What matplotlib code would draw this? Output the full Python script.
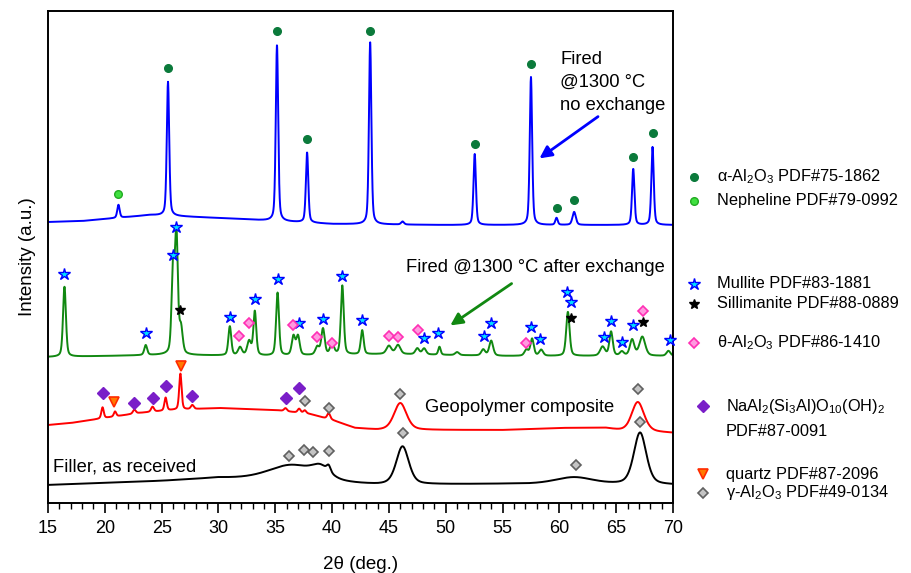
import matplotlib

matplotlib.use("Agg")

import matplotlib.pyplot as plt
from matplotlib.lines import Line2D
from matplotlib.ticker import MultipleLocator
import numpy as np

plt.rcParams["font.family"] = ["Liberation Sans", "DejaVu Sans"]
plt.rcParams["mathtext.fontset"] = "custom"
plt.rcParams["mathtext.rm"] = "Liberation Sans"
plt.rcParams["mathtext.it"] = "Liberation Sans:italic"

# ---- traces: baseline anchors (2theta, intensity) and peaks (centre, height, fwhm) ----
BLUE_BASE_X = [15, 18, 21, 24, 26, 30, 35, 40, 50, 60, 70]
BLUE_BASE_Y = [281, 282, 285, 288, 287, 285, 282, 279, 278, 278, 278]
BLUE_PEAK_X = [21.2, 25.56, 35.15, 37.8, 43.35, 46.2, 52.55, 57.5, 59.75, 61.3, 66.5, 68.2]
BLUE_PEAK_H = [13, 134, 176, 70, 182, 3, 71, 148, 7, 13, 56, 78]
BLUE_PEAK_W = [0.25, 0.25, 0.25, 0.25, 0.25, 0.3, 0.25, 0.25, 0.25, 0.35, 0.25, 0.25]

GREEN_BASE_X = [15, 25, 35, 45, 55, 70]
GREEN_BASE_Y = [146, 148, 147, 149, 147, 147]
GREEN_PEAK_X = [16.45, 23.6, 26.0, 26.3, 26.7, 31.0, 31.9, 32.7, 33.2, 35.2, 36.6, 37.0,
                38.7, 39.2, 40.0, 40.9, 42.65, 45.0, 45.8, 47.5, 48.1, 49.45, 51.0, 53.3,
                54.0, 57.1, 57.6, 58.4, 60.75, 63.8, 64.55, 65.5, 66.4, 67.3, 69.6]
GREEN_PEAK_H = [70, 10, 83, 118, 25, 29, 8, 14, 44, 63, 19, 19,
                8, 26, 11, 69, 24, 8, 9, 6, 6, 8, 3, 6,
                15, 6, 17, 6, 44, 9, 24, 4, 16, 19, 5]
GREEN_PEAK_W = [0.3, 0.3, 0.3, 0.3, 0.35, 0.3, 0.4, 0.4, 0.3, 0.3, 0.35, 0.35,
                0.4, 0.35, 0.4, 0.3, 0.3, 0.5, 0.5, 0.4, 0.4, 0.25, 0.4, 0.4,
                0.4, 0.4, 0.35, 0.4, 0.35, 0.5, 0.35, 0.4, 0.45, 0.6, 0.4]

RED_BASE_X = [15, 17, 20, 23, 26, 30, 35, 38, 40, 42, 44, 48, 55, 60, 64, 66, 68, 70]
RED_BASE_Y = [78, 80, 85, 90, 93, 95, 93, 89, 83, 75, 73, 73, 73, 75, 75, 71, 71, 70]
RED_PEAK_X = [19.8, 20.9, 22.6, 24.2, 25.35, 26.65, 27.7, 35.9, 37.1, 37.6, 39.7, 46.0, 66.9]
RED_PEAK_H = [11, 5, 4, 5, 13, 36, 4, 3, 4, 3, 6, 27, 30]
RED_PEAK_W = [0.25, 0.25, 0.3, 0.3, 0.25, 0.25, 0.3, 0.3, 0.3, 0.3, 0.3, 1.3, 1.3]

BLACK_BASE_X = [15, 25, 30, 42, 44, 55, 70]
BLACK_BASE_Y = [18, 22, 25, 19, 18, 19, 18]
BLACK_PEAK_X = [36.5, 39.0, 39.7, 46.2, 61.3, 67.1]
BLACK_PEAK_H = [16, 10, 6, 38, 7, 52]
BLACK_PEAK_W = [5.0, 1.8, 0.4, 1.3, 4.0, 1.3]

# ---- phase markers (2theta, intensity) ----
ALPHA_X = [25.56, 35.15, 37.8, 43.35, 52.55, 57.5, 59.75, 61.3, 66.5, 68.2]
ALPHA_Y = [435, 472, 364, 472, 359, 439, 295, 303, 346, 370]
NEPH_X = [21.2]
NEPH_Y = [309]
MULLITE_X = [16.45, 23.6, 26.0, 26.3, 31.0, 33.2, 35.2, 37.1, 39.2, 40.9, 42.65, 48.1,
             49.3, 53.4, 54.0, 57.5, 58.3, 60.7, 61.0, 63.9, 64.5, 65.5, 66.5, 69.7]
MULLITE_Y = [229, 170, 248, 276, 186, 204, 224, 180, 184, 227, 183, 165,
             170, 167, 180, 176, 164, 211, 201, 166, 182, 161, 178, 163]
SILL_X = [26.6, 61.0, 67.4]
SILL_Y = [193, 185, 181]
THETA_X = [31.8, 32.7, 36.6, 38.7, 40.0, 45.0, 45.8, 47.6, 57.1, 67.4]
THETA_Y = [167, 180, 178, 166, 160, 167, 166, 173, 160, 192]
NAAL_X = [19.8, 22.6, 24.2, 25.4, 27.7, 35.9, 37.1]
NAAL_Y = [110, 100, 105, 117, 107, 105, 115]
QUARTZ_X = [20.8, 26.7]
QUARTZ_Y = [101, 137]
GAMMA_X = [37.6, 39.7, 46.0, 66.9, 36.2, 37.5, 38.3, 39.7, 46.25, 61.5, 67.1]
GAMMA_Y = [102, 95, 109, 114, 47, 53, 51, 52, 70, 38, 81]


def pattern(x, base_x, base_y, peak_x, peak_h, peak_w, eta=0.4):
    y = np.interp(x, base_x, base_y)
    for c, h, w in zip(peak_x, peak_h, peak_w):
        d = (x - c) / w
        g = np.exp(-4 * np.log(2) * d ** 2)
        lor = 1.0 / (1.0 + 4 * d ** 2)
        y = y + h * (eta * lor + (1 - eta) * g)
    return y


x = np.linspace(15, 70, 4001)

fig = plt.figure(figsize=(9.11, 5.73), dpi=100)
ax = fig.add_axes([48 / 911, 1 - 503 / 573, 625 / 911, 492 / 573])

ax.plot(x, pattern(x, BLUE_BASE_X, BLUE_BASE_Y, BLUE_PEAK_X, BLUE_PEAK_H, BLUE_PEAK_W),
        color="#0000ff", lw=1.4)
ax.plot(x, pattern(x, GREEN_BASE_X, GREEN_BASE_Y, GREEN_PEAK_X, GREEN_PEAK_H, GREEN_PEAK_W),
        color="#118811", lw=1.4)
ax.plot(x, pattern(x, RED_BASE_X, RED_BASE_Y, RED_PEAK_X, RED_PEAK_H, RED_PEAK_W),
        color="#ff0000", lw=1.4)
ax.plot(x, pattern(x, BLACK_BASE_X, BLACK_BASE_Y, BLACK_PEAK_X, BLACK_PEAK_H, BLACK_PEAK_W),
        color="black", lw=1.4)

STYLES = {
    "alpha": dict(marker="o", ms=5.5, mfc="#0b7a3b", mec="#0b7a3b"),
    "neph": dict(marker="o", ms=5.5, mfc="#3fe03f", mec="#22aa22"),
    "mullite": dict(marker="*", ms=9, mfc="#00e0ff", mec="#0000ff", mew=1.0),
    "sill": dict(marker="*", ms=7, mfc="black", mec="black"),
    "theta": dict(marker="D", ms=5.5, mfc="#ff9adf", mec="#ff2fb4", mew=1.2),
    "naal": dict(marker="D", ms=6, mfc="#7a1ec8", mec="#7a1ec8"),
    "quartz": dict(marker="v", ms=7, mfc="#ff7a00", mec="#ff2a00", mew=1.2),
    "gamma": dict(marker="D", ms=5.5, mfc="#c4c4c4", mec="#606060", mew=1.2),
}

for key, xs, ys in [
    ("alpha", ALPHA_X, ALPHA_Y),
    ("neph", NEPH_X, NEPH_Y),
    ("mullite", MULLITE_X, MULLITE_Y),
    ("sill", SILL_X, SILL_Y),
    ("theta", THETA_X, THETA_Y),
    ("naal", NAAL_X, NAAL_Y),
    ("quartz", QUARTZ_X, QUARTZ_Y),
    ("gamma", GAMMA_X, GAMMA_Y),
]:
    ax.plot(xs, ys, ls="none", clip_on=False, zorder=5, **STYLES[key])

# annotations
ax.text(60.07, 452, "Fired\n@1300 °C\nno exchange", fontsize=13.2, va="top", ha="left",
        linespacing=1.45)
ax.annotate("", xy=(58.05, 343), xytext=(63.6, 388),
            arrowprops=dict(arrowstyle="-|>", color="#0000ff", lw=2, mutation_scale=18))
ax.text(46.5, 235, "Fired @1300 °C after exchange", fontsize=13.2, va="center", ha="left")
ax.annotate("", xy=(50.2, 176), xytext=(56.0, 221),
            arrowprops=dict(arrowstyle="-|>", color="#118811", lw=2, mutation_scale=18))
ax.text(48.2, 95, "Geopolymer composite", fontsize=13.2, va="center", ha="left")
ax.text(15.45, 36, "Filler, as received", fontsize=13.2, va="center", ha="left")

ax.set_xlim(15, 70)
ax.set_ylim(0, 492)
ax.set_yticks([])
ax.xaxis.set_major_locator(MultipleLocator(5))
ax.xaxis.set_minor_locator(MultipleLocator(1))
ax.tick_params(axis="x", which="major", direction="out", length=7, width=1.2,
               labelsize=13, pad=5)
ax.tick_params(axis="x", which="minor", direction="out", length=4, width=1.0)
ax.tick_params(top=False, right=False, left=False)
for sp in ax.spines.values():
    sp.set_linewidth(1.4)
ax.set_xlabel("2θ (deg.)", fontsize=13.5, labelpad=14)
ax.set_ylabel("Intensity (a.u.)", fontsize=13.5, labelpad=9)

# legend drawn at the right, outside the frame (pixel positions)
LEGEND = [
    ("alpha", 694, 177, "α-Al$_2$O$_3$ PDF#75-1862"),
    ("neph", 694, 201, "Nepheline PDF#79-0992"),
    ("mullite", 694, 284, "Mullite PDF#83-1881"),
    ("sill", 694, 304, "Sillimanite PDF#88-0889"),
    ("theta", 694, 343, "θ-Al$_2$O$_3$ PDF#86-1410"),
    ("naal", 703, 406, "NaAl$_2$(Si$_3$Al)O$_{10}$(OH)$_2$"),
    ("quartz", 703, 474, "quartz PDF#87-2096"),
    ("gamma", 703, 493, "γ-Al$_2$O$_3$ PDF#49-0134"),
]
W, H = 911, 573
for key, px, py, label in LEGEND:
    fig.add_artist(Line2D([px / W], [1 - py / H], ls="none", transform=fig.transFigure,
                          **STYLES[key]))
    fig.text((px + 23) / W, 1 - py / H, label, fontsize=11.8, va="center", ha="left")
fig.text(726 / W, 1 - 432 / H, "PDF#87-0091", fontsize=11.8, va="center", ha="left")

fig.savefig("out.png", dpi=100)
